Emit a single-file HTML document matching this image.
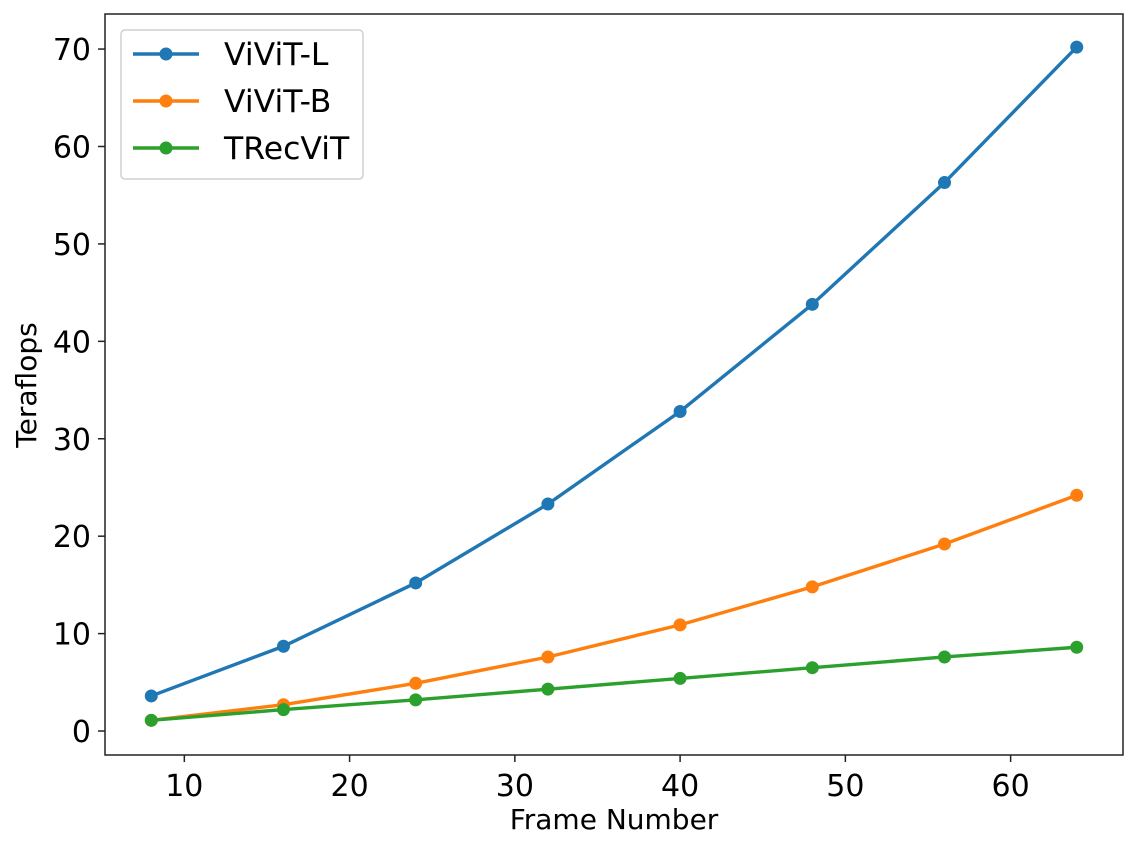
<!DOCTYPE html>
<html><head><meta charset="utf-8"><style>
body{margin:0;background:#fff;}
svg{display:block;font-family:"DejaVu Sans","Liberation Sans",sans-serif;}
</style></head><body>
<svg id="chart" width="1137" height="850"></svg>
<script>
const frames=[8,16,24,32,40,48,56,64];
const vivitL=[3.6,8.7,15.2,23.3,32.8,43.8,56.3,70.2];
const vivitB=[1.1,2.7,4.9,7.6,10.9,14.8,19.2,24.2];
const trecvit=[1.1,2.2,3.2,4.3,5.4,6.5,7.6,8.6];
const xTicks=[10,20,30,40,50,60];
const yTicks=[0,10,20,30,40,50,60,70];
const seriesNames=["ViViT-L","ViViT-B","TRecViT"];

const NS="http://www.w3.org/2000/svg";
const svg=document.getElementById('chart');
const L=105,R=1123,T=14,B=755;
const xMin=5.2,xMax=66.8,yMin=-2.46,yMax=73.6;
const sx=v=>L+(v-xMin)/(xMax-xMin)*(R-L);
const sy=v=>B-(v-yMin)/(yMax-yMin)*(B-T);
function mk(tag,attrs,parent){const e=document.createElementNS(NS,tag);for(const k in attrs)e.setAttribute(k,attrs[k]);(parent||svg).appendChild(e);return e;}

const colors=["#1f77b4","#ff7f0e","#2ca02c"];
const data=[vivitL,vivitB,trecvit];
data.forEach((s,i)=>{
  const g=mk('g',{});
  
  
  const p=mk('polyline',{points:s.map((v,j)=>sx(frames[j])+','+sy(v)).join(' '),fill:'none',stroke:colors[i],'stroke-width':3.4},g);
  
  
  s.forEach((v,j)=>{
    const c=mk('circle',{cx:sx(frames[j]),cy:sy(v),r:6.5,fill:colors[i]},g);
    
    
  });
});

const frame=mk('rect',{x:L,y:T,width:R-L,height:B-T,fill:'none',stroke:'#222','stroke-width':1.5});



xTicks.forEach(t=>{
  const x=sx(t);
  mk('line',{x1:x,x2:x,y1:B,y2:B+7,stroke:'#222','stroke-width':1.5});
  const tx=mk('text',{x:x,y:B+41,'text-anchor':'middle','font-size':30,fill:'#000'});
  tx.textContent=t;
  
  
});
yTicks.forEach(t=>{
  const y=sy(t);
  mk('line',{x1:L-7,x2:L,y1:y,y2:y,stroke:'#222','stroke-width':1.5});
  const tx=mk('text',{x:L-14,y:y+11,'text-anchor':'end','font-size':30,fill:'#000'});
  tx.textContent=t;
  
  
});

const xt=mk('text',{x:614,y:829,'text-anchor':'middle','font-size':28,fill:'#000'});
xt.textContent='Frame Number';


const yt=mk('text',{x:0,y:0,'text-anchor':'middle','font-size':28,fill:'#000',transform:'translate(36,385) rotate(-90)'});
yt.textContent='Teraflops';



const lg=mk('g',{});


mk('rect',{x:121,y:30,width:242,height:149,rx:4,fill:'#fff','fill-opacity':0.8,stroke:'#d0d0d0','stroke-width':1.5},lg);
seriesNames.forEach((n,i)=>{
  const y=54+i*47;
  const e=mk('g',{},lg);
  
  
  mk('line',{x1:133,x2:199,y1:y,y2:y,stroke:colors[i],'stroke-width':3.4},e);
  mk('circle',{cx:166,cy:y,r:6.5,fill:colors[i]},e);
  const t=mk('text',{x:224,y:y+11,'font-size':31.5,fill:'#000'},e);
  t.textContent=n;
});
</script>
</body></html>
